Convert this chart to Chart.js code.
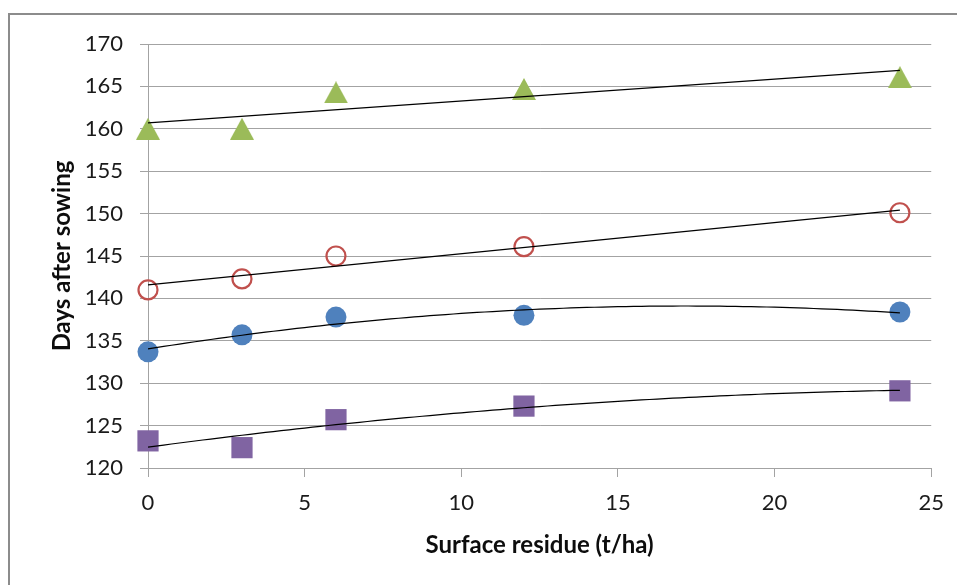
<!DOCTYPE html>
<html><head><meta charset="utf-8">
<script src="https://cdn.jsdelivr.net/npm/chart.js@4.4.0/dist/chart.umd.min.js"></script>
<style>
html,body{margin:0;padding:0;background:#fff;overflow:hidden;width:957px;height:585px;}
#frame{position:absolute;left:8px;top:13px;width:2000px;height:2000px;border-left:2px solid #8c8c8c;border-top:2px solid #8c8c8c;}
#wrap{position:absolute;left:0;top:0;width:957px;height:585px;}
</style></head><body>
<div id="frame"></div>
<div id="wrap"><canvas id="c" width="957" height="585"></canvas></div>
<script>
// ---- data ----
const residue = [0, 3, 6, 12, 24];                       // Surface residue (t/ha)
const greenTriangles = [160.0, 160.0, 164.3, 164.7, 166.1];
const redOpenCircles = [141.0, 142.3, 145.0, 146.1, 150.1];
const blueCircles    = [133.7, 135.7, 137.8, 138.0, 138.4];
const purpleSquares  = [123.2, 122.4, 125.7, 127.3, 129.1];
const xTickValues = [0, 5, 10, 15, 20, 25];
const yTickValues = [120, 125, 130, 135, 140, 145, 150, 155, 160, 165, 170];
const xTitle = 'Surface residue (t/ha)';
const yTitle = 'Days after sowing';

// ---- least-squares trendlines (as in the spreadsheet) ----
function polyfit(xs, ys, deg) {
  const n = deg + 1;
  const A = [], b = [];
  for (let i = 0; i < n; i++) {
    A.push([]);
    for (let j = 0; j < n; j++) A[i].push(xs.reduce((s, x) => s + Math.pow(x, i + j), 0));
    b.push(xs.reduce((s, x, k) => s + Math.pow(x, i) * ys[k], 0));
  }
  for (let c = 0; c < n; c++) {
    let p = c;
    for (let r = c + 1; r < n; r++) if (Math.abs(A[r][c]) > Math.abs(A[p][c])) p = r;
    [A[c], A[p]] = [A[p], A[c]]; [b[c], b[p]] = [b[p], b[c]];
    for (let r = 0; r < n; r++) {
      if (r === c) continue;
      const f = A[r][c] / A[c][c];
      for (let k = c; k < n; k++) A[r][k] -= f * A[c][k];
      b[r] -= f * b[c];
    }
  }
  return b.map((v, i) => v / A[i][i]);
}
function trend(xs, ys, deg) {
  const co = polyfit(xs, ys, deg);
  const x0 = Math.min(...xs), x1 = Math.max(...xs);
  const pts = [];
  const steps = deg === 1 ? 1 : 96;
  for (let i = 0; i <= steps; i++) {
    const x = x0 + (x1 - x0) * i / steps;
    pts.push({x, y: co.reduce((s, c, k) => s + c * Math.pow(x, k), 0)});
  }
  return pts;
}
const pts = (ys) => residue.map((x, i) => ({x, y: ys[i]}));

function triangleImage(w, h, color) {
  const c = document.createElement('canvas');
  c.width = w; c.height = h;
  const g = c.getContext('2d');
  g.fillStyle = color;
  g.beginPath(); g.moveTo(w / 2, 0); g.lineTo(w, h); g.lineTo(0, h); g.closePath(); g.fill();
  return c;
}

const GREEN = '#9BBB59', RED = '#C0504D', BLUE = '#4F81BD', PURPLE = '#8064A2';
const GRID = '#a3a3a3';
const FONT = 'Lato';

const trendStyle = {type: 'line', showLine: true, borderColor: '#000', borderWidth: 1.2,
  pointRadius: 0, fill: false, tension: 0, order: 1, clip: false};

new Chart(document.getElementById('c'), {
  type: 'scatter',
  data: {
    datasets: [
      {data: pts(greenTriangles), pointStyle: triangleImage(24, 22, GREEN), pointRadius: 12, order: 2, clip: false},
      {data: pts(redOpenCircles), pointStyle: 'circle', pointRadius: 9.5, pointBorderWidth: 2.2,
        pointBorderColor: RED, pointBackgroundColor: 'rgba(0,0,0,0)', order: 2, clip: false},
      {data: pts(blueCircles), pointStyle: 'circle', pointRadius: 10.5, pointBorderWidth: 0,
        pointBackgroundColor: BLUE, pointBorderColor: BLUE, order: 2, clip: false},
      {data: pts(purpleSquares), pointStyle: 'rect', pointRadius: 15, pointBorderWidth: 0,
        pointBackgroundColor: PURPLE, pointBorderColor: PURPLE, order: 2, clip: false},
      Object.assign({data: trend(residue, greenTriangles, 1)}, trendStyle),
      Object.assign({data: trend(residue, redOpenCircles, 1)}, trendStyle),
      Object.assign({data: trend(residue, blueCircles, 2)}, trendStyle),
      Object.assign({data: trend(residue, purpleSquares, 2)}, trendStyle)
    ]
  },
  options: {
    responsive: false,
    animation: false,
    devicePixelRatio: 1,
    layout: {padding: {top: 44, right: 24, bottom: 0, left: 0}},
    plugins: {legend: {display: false}, tooltip: {enabled: false}},
    scales: {
      x: {
        type: 'linear', min: xTickValues[0], max: xTickValues[xTickValues.length - 1],
        afterBuildTicks: (s) => { s.ticks = xTickValues.map(v => ({value: v})); },
        afterFit: (s) => { s.height = 117; },
        ticks: {color: '#1a1a1a', font: {family: FONT, size: 22}, padding: 13, maxRotation: 0},
        grid: {drawOnChartArea: false, drawTicks: true, tickLength: 9, color: GRID, lineWidth: 1},
        border: {display: true, color: GRID, width: 1},
        title: {display: true, text: xTitle, color: '#0d0d0d',
          font: {family: FONT, size: 24, weight: 'bold'}, padding: {top: 0, bottom: 25}}
      },
      y: {
        type: 'linear', min: yTickValues[0], max: yTickValues[yTickValues.length - 1],
        afterBuildTicks: (s) => { s.ticks = yTickValues.map(v => ({value: v})); },
        afterFit: (s) => { s.width = 148; },
        ticks: {color: '#1a1a1a', font: {family: FONT, size: 22}, padding: 17},
        grid: {drawTicks: true, tickLength: 8, color: GRID, lineWidth: 1},
        border: {display: true, color: GRID, width: 1},
        title: {display: true, text: yTitle, color: '#0d0d0d',
          font: {family: FONT, size: 24, weight: 'bold'}, padding: {top: 48, bottom: 0}}
      }
    }
  }
});
</script>
</body></html>
